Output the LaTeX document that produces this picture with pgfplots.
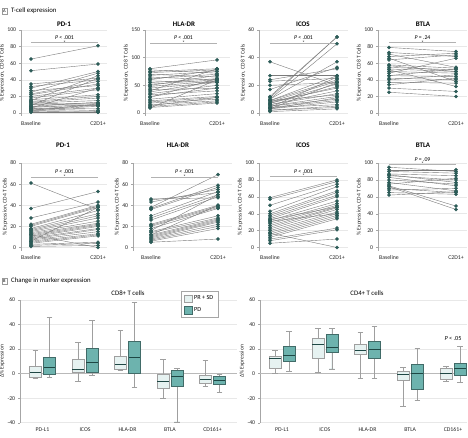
\documentclass[border=0pt]{standalone}
\usepackage{fontspec}
\setmainfont{Carlito}
\usepackage{pgfplots}
\pgfplotsset{compat=1.18}
\usepackage{pgfplotstable}
\usepgfplotslibrary{statistics}

\definecolor{dotcol}{HTML}{2C5B57}
\definecolor{linecol}{HTML}{7A7A7A}
\definecolor{lightbox}{HTML}{E6F2F1}
\definecolor{tealbox}{HTML}{6DB3AE}
\definecolor{medcol}{HTML}{1E4744}

% ---------- Panel A data: baseline (b) and C2D1+ (c) ----------
\pgfplotstableread{
b c
65 81
51 59
35 42
32 40
30 50
27 33
25 48
23 38
22 35
20 30
18 28
16 22
15 45
14 20
13 18
12 15
11 12
10 11
9 42
8 13
7 10
6 5
6 30
5 9
5 3
4 8
3 2
2 1
1 1
8 9
3 11
}\pdA
\pgfplotstableread{
b c
80 96
78 72
75 80
73 78
70 65
68 75
65 60
62 70
60 78
58 55
55 62
52 60
50 68
48 58
45 55
42 45
40 80
38 58
35 50
33 40
30 45
28 62
25 35
22 30
20 28
18 25
15 22
13 28
12 20
10 18
9 60
}\hlA
\pgfplotstableread{
b c
37 20
27 27
24 32
23 25
20 22
17 33
12 55
11 55
10 50
10 37
9 24
9 27
8 18
8 23
7 21
6 16
6 14
5 12
5 10
4 26
4 9
3 11
3 8
2 5
2 4
1 3
9 13
7 19
4 6
3 22
}\icA
\pgfplotstableread{
b c
79 74
73 68
71 55
68 72
66 38
64 70
58 54
55 52
53 50
52 32
50 48
48 66
45 44
42 40
40 46
37 36
34 42
30 26
25 20
57 50
45 53
}\btA
\pgfplotstableread{
b c
61 36
37 53
28 43
22 40
21 39
20 38
18 35
17 32
16 30
15 28
14 25
13 23
12 22
11 21
10 20
9 18
8 17
7 15
6 13
5 12
4 11
3 5
2 4
1 2
12 0
6 38
}\pdB
\pgfplotstableread{
b c
46 47
45 52
43 55
38 69
37 59
36 57
30 53
28 50
26 48
22 40
21 39
20 38
18 37
15 30
14 28
12 27
11 26
10 25
9 24
8 22
7 20
6 18
5 8
12 40
16 50
}\hlB
\pgfplotstableread{
b c
59 80
57 78
50 75
43 72
40 67
38 65
36 62
34 60
32 55
30 52
28 50
26 48
24 47
22 45
20 42
18 40
16 38
14 36
12 34
10 23
8 21
5 10
17 0
33 48
31 40
}\icB
\pgfplotstableread{
b c
95 90
92 92
90 88
87 85
85 80
83 73
80 75
77 67
75 82
73 49
72 45
70 65
68 70
65 63
62 66
86 77
}\btB

\pgfplotsset{
  base/.style={scale only axis, clip=false,
    axis y line*=left, axis x line*=bottom,
    x axis line style={draw=none},
    axis line style={gray!70, line width=0.4pt},
    tick align=outside, major tick length=1.8pt,
    ytick style={gray!70, line width=0.4pt},
    xtick style={draw=none},
    ymajorgrids, grid style={gray!18, line width=0.5pt},
    tick label style={font=\fontsize{5.8}{6.5}\selectfont, text=black!85},
    yticklabel style={xshift=0.5pt},
    /pgf/number format/assume math mode=true,
    label style={font=\fontsize{5.6}{6.5}\selectfont, text=black!85},
    ylabel shift=-4pt,
  },
  pair/.style={base, anchor=south west, xtick={0,1}, xticklabels={Baseline, C2D1+}},
  bx/.style={forget plot, line width=0.45pt,
    boxplot/draw direction=y,
    boxplot/box extend=0.28, boxplot/whisker extend=0.13,
    boxplot/every median/.style={draw=medcol, line width=0.9pt},
    boxplot/every whisker/.style={draw=gray!75}},
  lb/.style={bx, fill=lightbox, draw=gray!75},
  tb/.style={bx, fill=tealbox, draw=tealbox!60!black},
}

\newcommand{\pairs}[1]{%
  \addplot[linecol, line width=0.4pt, no markers,
    quiver={u=1, v=\thisrow{c}-\thisrow{b}}] table[x expr=0, y=b] {#1};
  \addplot[dotcol, only marks, mark=*, mark size=1.6pt] table[x expr=0, y=b] {#1};
  \addplot[dotcol, only marks, mark=*, mark size=1.6pt] table[x expr=1, y=c] {#1};
}
\newcommand{\pval}[2]{%
  \draw[gray!60, line width=0.4pt] (axis cs:0,#1) -- (axis cs:1,#1);
  \node[anchor=south, inner sep=0pt, yshift=2.5pt, font=\fontsize{5.8}{6.5}\selectfont] at (axis cs:0.5,#1) {#2};
  \node[inner sep=0pt, font=\fontsize{5}{5}\selectfont, yshift=0.3pt] at (axis cs:0.5,#1) {*};
}

\begin{document}
\begin{tikzpicture}
\path[use as bounding box] (0pt,0pt) rectangle (468pt,437pt);

% headers
\draw[gray!80, line width=0.4pt] (1.7pt,423pt) rectangle (7pt,429pt);
\node[inner sep=0pt, font=\fontsize{4.5}{5}\selectfont] at (4.35pt,426pt) {A};
\node[anchor=west, inner sep=0pt, font=\fontsize{6.8}{7}\selectfont] at (11pt,426pt) {T-cell expression};
\draw[gray!80, line width=0.4pt] (1.7pt,153pt) rectangle (7pt,159pt);
\node[inner sep=0pt, font=\fontsize{4.5}{5}\selectfont] at (4.35pt,156pt) {B};
\node[anchor=west, inner sep=0pt, font=\fontsize{6.8}{7}\selectfont] at (11pt,156pt) {Change in marker expression};

% ---------------- Row 1 (CD8) ----------------
\begin{axis}[pair, at={(21pt,321pt)}, width=86pt, height=86pt,
  xmin=-0.149, xmax=1.134, ymin=-3.6, ymax=100, ytick={0,20,...,100},
  ylabel={\% Expression, CD8 T Cells}]
\pairs{\pdA}
\pval{84.7}{\textit{P} < .001}
\end{axis}
\begin{axis}[pair, at={(145pt,321pt)}, width=85pt, height=86pt,
  xmin=-0.075, xmax=1.194, ymin=-5.4, ymax=150, ytick={0,50,100,150},
  ylabel={\% Expression, CD8 T Cells}]
\pairs{\hlA}
\pval{127}{\textit{P} < .001}
\end{axis}
\begin{axis}[pair, at={(259pt,321pt)}, width=89pt, height=86pt,
  xmin=-0.164, xmax=1.164, ymin=-2.17, ymax=60, ytick={0,20,40,60},
  ylabel={\% Expression, CD8 T Cells}]
\pairs{\icA}
\pval{50.8}{\textit{P} < .001}
\end{axis}
\begin{axis}[pair, at={(378pt,321pt)}, width=89pt, height=86pt,
  xmin=-0.164, xmax=1.164, ymin=-3.6, ymax=100, ytick={0,20,...,100},
  ylabel={\% Expression, CD8 T Cells}]
\pairs{\btA}
\pval{84.7}{\textit{P} = .24}
\end{axis}

% ---------------- Row 2 (CD4) ----------------
\begin{axis}[pair, at={(21pt,186.5pt)}, width=86pt, height=87.5pt,
  xmin=-0.149, xmax=1.134, ymin=-2.84, ymax=80, ytick={0,20,...,80},
  ylabel={\% Expression, CD4 T Cells}]
\pairs{\pdB}
\pval{67}{\textit{P} < .001}
\end{axis}
\begin{axis}[pair, at={(133pt,186.5pt)}, width=99pt, height=87.5pt,
  xmin=-0.269, xmax=1.209, ymin=-2.84, ymax=80, ytick={0,20,...,80},
  ylabel={\% Expression, CD4 T Cells}]
\pairs{\hlB}
\pval{67}{\textit{P} < .001}
\end{axis}
\begin{axis}[pair, at={(259pt,186.5pt)}, width=89pt, height=87.5pt,
  xmin=-0.164, xmax=1.164, ymin=-3.55, ymax=100, ytick={0,20,...,100},
  ylabel={\% Expression, CD4 T Cells}]
\pairs{\icB}
\pval{84}{\textit{P} < .001}
\end{axis}
\begin{axis}[pair, at={(378pt,186.5pt)}, width=89pt, height=87.5pt,
  xmin=-0.164, xmax=1.164, ymin=-3.55, ymax=100, ytick={0,20,...,100},
  ylabel={\% Expression, CD4 T Cells}]
\pairs{\btB}
\pval{99}{\textit{P} = .09}
\end{axis}

% titles
\begin{scope}[every node/.style={font=\bfseries\fontsize{7}{7.5}\selectfont, inner sep=0pt}]
\node at (64pt,413pt) {PD-1};
\node at (184pt,413pt) {HLA-DR};
\node at (303pt,413pt) {ICOS};
\node at (423pt,413pt) {BTLA};
\node at (63pt,292pt) {PD-1};
\node at (178pt,292pt) {HLA-DR};
\node at (303pt,292pt) {ICOS};
\node at (423pt,292pt) {BTLA};
\end{scope}

% ---------------- Panel B: CD8 ----------------
\begin{axis}[base, anchor=south west, at={(20pt,14.3pt)}, width=217pt, height=122.7pt,
  xmin=0.4706, xmax=5.576, ymin=-40, ymax=60, ytick={-40,-20,...,60},
  xtick={1,...,5}, xticklabels={PD-L1,ICOS,HLA-DR,BTLA,CD161+},
  ylabel={Δ\% Expression},
  legend style={at={(0.912,1.073)}, anchor=north east, draw=gray!70,
    font=\fontsize{6.2}{7}\selectfont, row sep=2pt, inner sep=2.5pt},
  legend cell align=left,
  legend image code/.code={\draw[#1] (0pt,-3.8pt) rectangle (7.5pt,3.8pt);}]
\draw[gray!55, line width=0.45pt] (rel axis cs:0,0.4) -- (rel axis cs:1,0.4);
\addlegendimage{fill=lightbox, draw=gray!75}
\addlegendentry{PR + SD}
\addlegendimage{fill=tealbox, draw=tealbox!60!black}
\addlegendentry{PD}
\addplot[lb, boxplot prepared={draw position=0.835, lower whisker=-4, lower quartile=-3.3, median=0.8, upper quartile=6.3, upper whisker=19}] coordinates {};
\addplot[tb, boxplot prepared={draw position=1.165, lower whisker=-3.3, lower quartile=-0.5, median=5, upper quartile=13, upper whisker=45.6}] coordinates {};
\addplot[lb, boxplot prepared={draw position=1.835, lower whisker=-6.5, lower quartile=0.8, median=3.3, upper quartile=11.4, upper whisker=25.3}] coordinates {};
\addplot[tb, boxplot prepared={draw position=2.165, lower whisker=-1.4, lower quartile=0.8, median=9, upper quartile=20.4, upper whisker=43.2}] coordinates {};
\addplot[lb, boxplot prepared={draw position=2.835, lower whisker=2.7, lower quartile=3.5, median=7.3, upper quartile=13.9, upper whisker=35}] coordinates {};
\addplot[tb, boxplot prepared={draw position=3.165, lower whisker=-11.4, lower quartile=0.5, median=13, upper quartile=26.4, upper whisker=58}] coordinates {};
\addplot[lb, boxplot prepared={draw position=3.835, lower whisker=-20, lower quartile=-12.2, median=-6.5, upper quartile=-0.8, upper whisker=11.4}] coordinates {};
\addplot[tb, boxplot prepared={draw position=4.165, lower whisker=-39.4, lower quartile=-10, median=-2.4, upper quartile=2.4, upper whisker=4.3}] coordinates {};
\addplot[lb, boxplot prepared={draw position=4.835, lower whisker=-10.3, lower quartile=-8.2, median=-4.6, upper quartile=-1, upper whisker=10.9}] coordinates {};
\addplot[tb, boxplot prepared={draw position=5.165, lower whisker=-15, lower quartile=-9, median=-5.2, upper quartile=-2.2, upper whisker=-0.8}] coordinates {};
\end{axis}
\node[font=\fontsize{6.8}{7}\selectfont, inner sep=0pt] at (128pt,144pt) {CD8+ T cells};

% ---------------- Panel B: CD4 ----------------
\begin{axis}[base, anchor=south west, at={(260pt,14.3pt)}, width=207pt, height=122.7pt,
  xmin=0.485, xmax=5.327, ymin=-40, ymax=60, ytick={-40,-20,...,60},
  xtick={1,...,5}, xticklabels={PD-L1,ICOS,HLA-DR,BTLA,CD161+},
  ylabel={Δ\% Expression}]
\draw[gray!55, line width=0.45pt] (rel axis cs:0,0.4) -- (rel axis cs:1,0.4);
\addplot[lb, boxplot prepared={draw position=0.836, lower whisker=0, lower quartile=4, median=12, upper quartile=14.4, upper whisker=19}] coordinates {};
\addplot[tb, boxplot prepared={draw position=1.164, lower whisker=2, lower quartile=10.3, median=15, upper quartile=22.3, upper whisker=34.5}] coordinates {};
\addplot[lb, boxplot prepared={draw position=1.836, lower whisker=0.8, lower quartile=12.2, median=23.6, upper quartile=28.5, upper whisker=36.7}] coordinates {};
\addplot[tb, boxplot prepared={draw position=2.164, lower whisker=3.8, lower quartile=17.1, median=21.5, upper quartile=31.8, upper whisker=36.7}] coordinates {};
\addplot[lb, boxplot prepared={draw position=2.836, lower whisker=-3.8, lower quartile=15.5, median=19, upper quartile=23.6, upper whisker=33.4}] coordinates {};
\addplot[tb, boxplot prepared={draw position=3.164, lower whisker=-3.8, lower quartile=12.2, median=19.8, upper quartile=26.6, upper whisker=38.6}] coordinates {};
\addplot[lb, boxplot prepared={draw position=3.836, lower whisker=-26.6, lower quartile=-5.7, median=-0.3, upper quartile=1.6, upper whisker=4.9}] coordinates {};
\addplot[tb, boxplot prepared={draw position=4.164, lower whisker=-21.7, lower quartile=-13, median=0.5, upper quartile=7.3, upper whisker=20.4}] coordinates {};
\addplot[lb, boxplot prepared={draw position=4.836, lower whisker=-6.5, lower quartile=-4.6, median=0.5, upper quartile=4.3, upper whisker=5.7}] coordinates {};
\addplot[tb, boxplot prepared={draw position=5.164, lower whisker=-7.3, lower quartile=-1, median=4.6, upper quartile=8.2, upper whisker=22.3}] coordinates {};
\node[font=\fontsize{6.2}{7}\selectfont] at (axis cs:5,29) {\textit{P} < .05};
\end{axis}
\node[font=\fontsize{6.8}{7}\selectfont, inner sep=0pt] at (367pt,144pt) {CD4+ T cells};
\end{tikzpicture}
\end{document}
